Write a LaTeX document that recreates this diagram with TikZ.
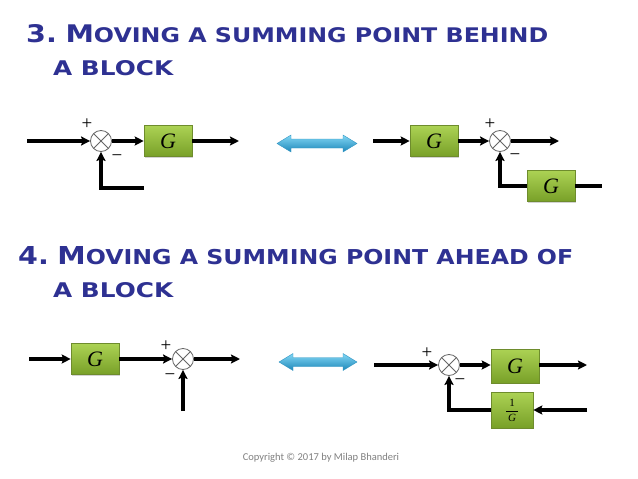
\documentclass[tikz,border=0pt]{standalone}
\usepackage{fontspec}
\setmainfont{Liberation Serif}
\newfontfamily\titlefont{DejaVu Sans}
\newfontfamily\copyfont{Carlito}
\usetikzlibrary{arrows.meta,shadows}
\definecolor{titleblue}{RGB}{46,49,146}
\definecolor{gtop}{RGB}{172,210,84}
\definecolor{gbot}{RGB}{120,160,40}
\definecolor{gedge}{RGB}{110,140,45}
\definecolor{ctop}{RGB}{130,215,245}
\definecolor{cbot}{RGB}{30,135,185}
\definecolor{cedge}{RGB}{50,150,195}
\newcommand\bigL{\fontsize{20}{22}\selectfont}
\newcommand\smL{\fontsize{16.6}{20}\selectfont}
\begin{document}
\begin{tikzpicture}[x=1pt,y=-1pt,
  sig/.style={line width=3.2pt,black},
  arr/.style={-{Stealth[length=9pt,width=9pt,inset=1.5pt]}},
  blk/.style={rectangle,draw=gedge,line width=0.6pt,top color=gtop,bottom color=gbot,
     minimum width=48pt,minimum height=31pt,inner sep=0pt,
     drop shadow={shadow xshift=1.2pt,shadow yshift=-1.2pt,opacity=0.35},
     font=\fontsize{22}{22}\selectfont\itshape},
  sumj/.style={circle,draw=gray!80!black,line width=0.8pt,fill=white,minimum size=21pt,inner sep=0pt,
     path picture={\draw[gray!80!black,line width=0.8pt]
       (path picture bounding box.north west) -- (path picture bounding box.south east)
       (path picture bounding box.north east) -- (path picture bounding box.south west);}},
  sgn/.style={inner sep=0pt,font=\fontsize{19}{19}\selectfont},
  ttl/.style={anchor=base west,inner sep=0pt,text=titleblue,font=\titlefont\bfseries},
  dbl/.style={draw=cedge,line width=0.4pt,top color=ctop,bottom color=cbot}
]
\useasboundingbox (0,0) rectangle (638,479);

% ---------- titles ----------
\node[ttl] (t3a) at (26,42) {\resizebox{522pt}{18pt}{\bigL 3.\hspace{6pt}M\smL OVING A SUMMING POINT BEHIND}};
\node[ttl] (t3b) at (53,75) {\resizebox{120pt}{15pt}{\smL A BLOCK}};
\node[ttl] (t4a) at (18,264) {\resizebox{555pt}{18pt}{\bigL 4.\hspace{6pt}M\smL OVING A SUMMING POINT AHEAD OF}};
\node[ttl] (t4b) at (53,297) {\resizebox{120pt}{15pt}{\smL A BLOCK}};

% ---------- section 3, left ----------
\coordinate (in1) at (27,141);
\node[sumj] (s1) at (101,141) {};
\node[blk] (g1) at (168,141) {G};
\coordinate (out1) at (239,141);
\coordinate (fb1) at (144,188);
\node[sgn] (p1) at (87,124) {+};
\node[sgn] (m1) at (117,158) {−};
\draw[sig,arr] (in1) -- (s1.west);
\draw[sig,arr] (s1.east) -- (g1.west);
\draw[sig,arr] (g1.east) -- (out1);
\draw[sig,arr] (fb1) -| (s1.south);

% ---------- double arrow 1 ----------
\path[dbl] (277,143.5) -- (291,135) -- (291,139) -- (343,139) -- (343,135) -- (357,143.5)
  -- (343,152) -- (343,148) -- (291,148) -- (291,152) -- cycle;

% ---------- section 3, right ----------
\coordinate (in2) at (373,141);
\node[blk] (g2) at (434,141) {G};
\node[sumj] (s2) at (500,141) {};
\coordinate (out2) at (559,141);
\node[blk] (g3) at (551,186) {G};
\coordinate (fb2) at (602,186);
\node[sgn] (p2) at (490,124) {+};
\node[sgn] (m2) at (515,157) {−};
\draw[sig,arr] (in2) -- (g2.west);
\draw[sig,arr] (g2.east) -- (s2.west);
\draw[sig,arr] (s2.east) -- (out2);
\draw[sig] (g3.east) -- (fb2);
\draw[sig,arr] (g3.west) -| (s2.south);

% ---------- section 4, left ----------
\coordinate (in3) at (29,359);
\node[blk] (g4) at (95,359) {G};
\node[sumj] (s3) at (183,359) {};
\coordinate (out3) at (240,359);
\coordinate (fb3) at (183,411);
\node[sgn] (p3) at (166,346) {+};
\node[sgn] (m3) at (170,377) {−};
\draw[sig,arr] (in3) -- (g4.west);
\draw[sig,arr] (g4.east) -- (s3.west);
\draw[sig,arr] (s3.east) -- (out3);
\draw[sig,arr] (fb3) -- (s3.south);

% ---------- double arrow 2 ----------
\path[dbl] (279,362) -- (293,353.5) -- (293,357.5) -- (343,357.5) -- (343,353.5) -- (357,362)
  -- (343,370.5) -- (343,366.5) -- (293,366.5) -- (293,370.5) -- cycle;

% ---------- section 4, right ----------
\coordinate (in4) at (374,365);
\node[sumj] (s4) at (449,365) {};
\node[blk,minimum height=34pt] (g5) at (515,366) {G};
\coordinate (out4) at (587,366);
\node[blk,minimum width=42pt,minimum height=36pt,font=\fontsize{11}{13}\selectfont] (g6) at (512,410)
  {$\displaystyle\frac{\textrm{1}}{\,\textit{G}\,}$};
\coordinate (fb4) at (587,410);
\node[sgn] (p4) at (427,353) {+};
\node[sgn] (m4) at (460,382) {−};
\draw[sig,arr] (in4) -- (s4.west);
\draw[sig,arr] (s4.east) -- (g5.west |- s4.east);
\draw[sig,arr] (g5.east |- s4.east) -- (out4 |- s4.east);
\draw[sig,arr] (fb4) -- (g6.east);
\draw[sig,arr] (g6.west) -| (s4.south);

% ---------- copyright ----------
\node[font=\copyfont\fontsize{10.5}{12}\selectfont,text=gray,inner sep=0pt] (cp) at (321,458)
  {Copyright © 2017 by Milap Bhanderi};
\end{tikzpicture}
\end{document}
